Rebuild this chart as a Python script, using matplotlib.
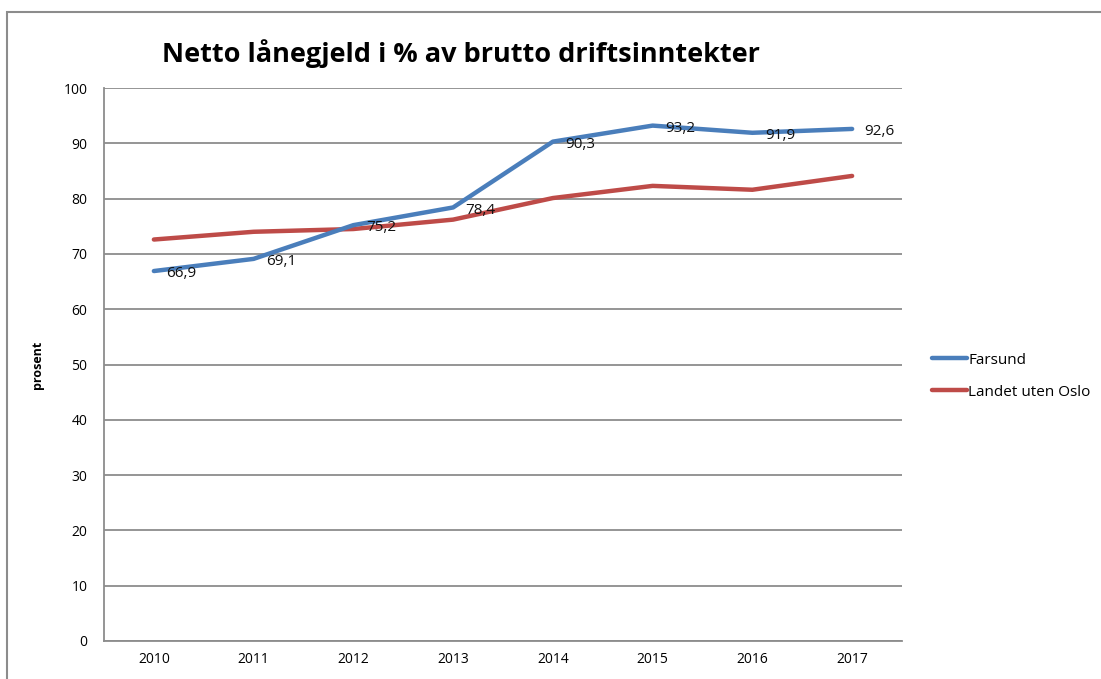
import matplotlib.pyplot as plt
from matplotlib.patches import Rectangle

years = ["2010", "2011", "2012", "2013", "2014", "2015", "2016", "2017"]
farsund = [66.9, 69.1, 75.2, 78.4, 90.3, 93.2, 91.9, 92.6]
landet = [72.6, 74.0, 74.5, 76.2, 80.1, 82.3, 81.6, 84.1]
farsund_labels = ["66,9", "69,1", "75,2", "78,4", "90,3", "93,2", "91,9", "92,6"]

plt.rcParams['font.family'] = ['Open Sans', 'DejaVu Sans']

fig = plt.figure(figsize=(11.01, 6.79), dpi=100)
# outer chart frame
fig.patches.append(Rectangle((7 / 1101, -0.01), 1.1, 1 - 12 / 679 + 0.01,
                             transform=fig.transFigure, fill=False,
                             edgecolor="#8c8c8c", linewidth=1.5))

ax = fig.add_axes([104 / 1101, 38 / 679, 798 / 1101, 553 / 679])

x = list(range(len(years)))
ax.plot(x, farsund, color="#4A7EBB", linewidth=3.2, label="Farsund",
        solid_capstyle="round", zorder=3)
ax.plot(x, landet, color="#BE4B48", linewidth=3.2, label="Landet uten Oslo",
        solid_capstyle="round", zorder=2)

for xi, yi, lab in zip(x, farsund, farsund_labels):
    ax.annotate(lab, (xi, yi), xytext=(9, -2), textcoords="offset points",
                ha="left", va="center", fontsize=11, color="#111111", zorder=4)

ax.set_xlim(-0.5, 7.5)
ax.set_ylim(0, 100)
ax.set_yticks(range(0, 101, 10))
ax.set_xticks(x)
ax.set_xticklabels(years)
ax.tick_params(length=0, labelsize=10, pad=8)
ax.tick_params(axis="y", pad=12)
ax.grid(axis="y", color="#8c8c8c", linewidth=1.3)
ax.set_axisbelow(True)
for s in ["top", "right"]:
    ax.spines[s].set_visible(False)
ax.spines["left"].set_color("#8c8c8c")
ax.spines["bottom"].set_color("#8c8c8c")
ax.spines["left"].set_linewidth(1.3)
ax.spines["bottom"].set_linewidth(1.3)

ax.set_ylabel("prosent", fontsize=9, fontweight="bold", labelpad=14)

fig.text(162 / 1101, 1 - 54 / 679, "Netto lånegjeld i % av brutto driftsinntekter",
         fontsize=19.5, fontweight="bold", ha="left", va="center")

ax.legend(loc="center left", bbox_to_anchor=(1.02, 0.479), frameon=False,
          fontsize=11, handlelength=2.3, handletextpad=0.1, labelspacing=1.1)

fig.savefig("out.png", dpi=100)
